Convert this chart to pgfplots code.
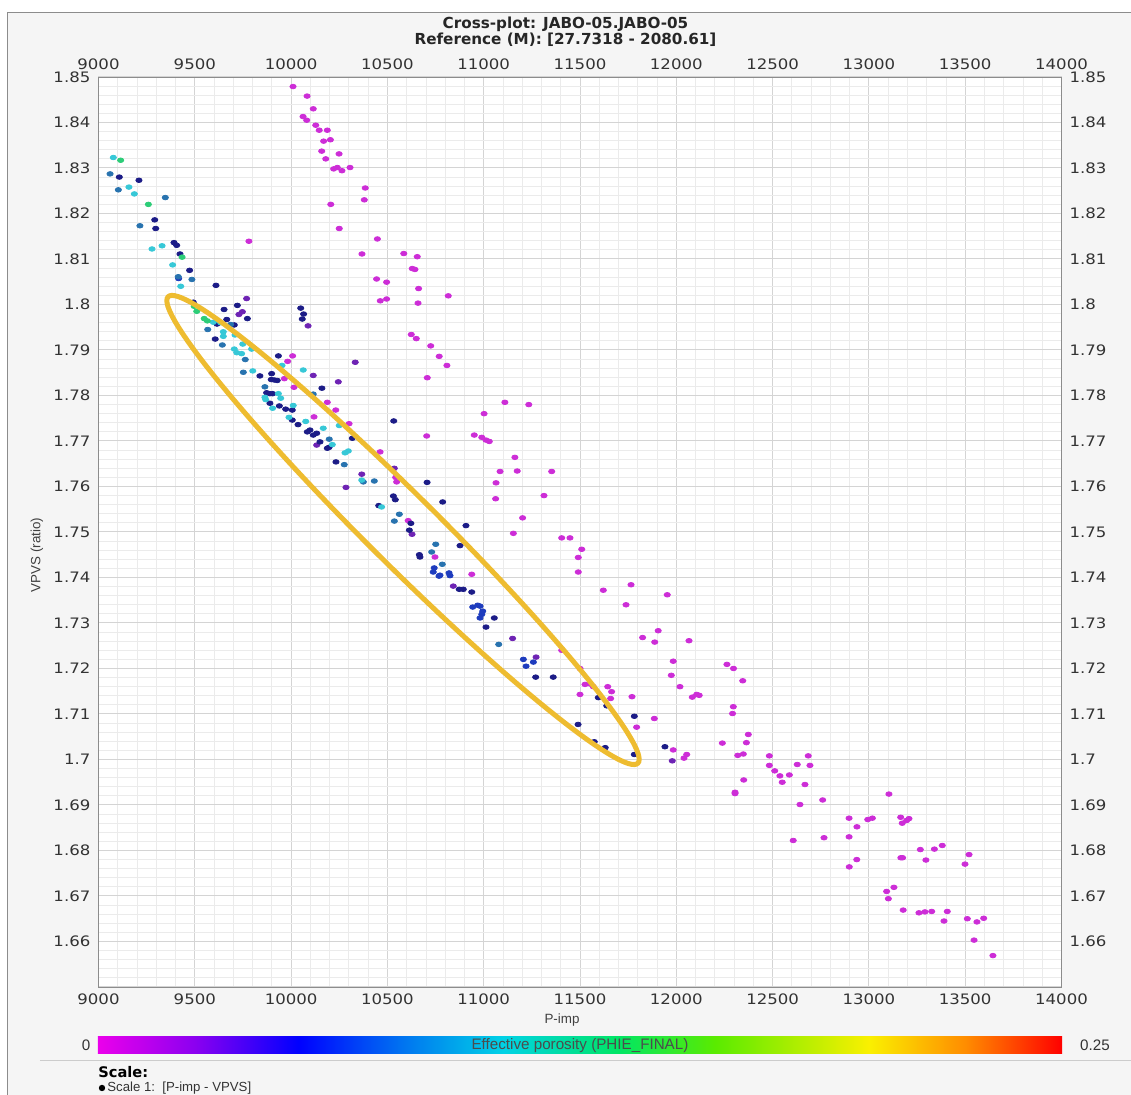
\documentclass[border=0pt]{standalone}
\usepackage{pgfplots}
\pgfplotsset{compat=1.18}
\usepackage{fontspec}
\setmainfont{DejaVu Sans}
\newfontfamily\lib{Liberation Sans}
\definecolor{mag}{RGB}{205,45,215}
\definecolor{pur}{RGB}{110,35,180}
\definecolor{nav}{RGB}{28,28,135}
\definecolor{blu}{RGB}{30,60,190}
\definecolor{stl}{RGB}{40,115,175}
\definecolor{cyn}{RGB}{55,200,215}
\definecolor{grn}{RGB}{45,205,120}
\definecolor{ell}{RGB}{238,188,48}
\definecolor{c0}{RGB}{235,0,235}
\definecolor{c1}{RGB}{140,0,240}
\definecolor{c2}{RGB}{0,0,255}
\definecolor{c3}{RGB}{0,120,240}
\definecolor{c4}{RGB}{0,210,230}
\definecolor{c5}{RGB}{0,230,100}
\definecolor{c6}{RGB}{90,235,0}
\definecolor{c7}{RGB}{250,240,0}
\definecolor{c8}{RGB}{255,140,0}
\definecolor{c9}{RGB}{255,0,0}
\pgfdeclarehorizontalshading{phie}{100bp}{color(0bp)=(c0); color(25bp)=(c0); color(30bp)=(c1); color(35.4bp)=(c2); color(41bp)=(c3); color(46bp)=(c4); color(52bp)=(c5); color(57bp)=(c6); color(65bp)=(c7); color(70bp)=(c8); color(75bp)=(c9); color(100bp)=(c9)}
\newcommand\pxy[2]{({(#1-98.5)*0.5pt},{(987-#2)*0.5pt})}
\pgfplotsset{
  common/.style={
    at={(0,0)}, anchor=south west, scale only axis,
    width=481.5pt, height=455pt,
    xmin=9000, xmax=14000, ymin=1.65, ymax=1.85,
    scaled ticks=false,
    xtick={9000,9500,10000,10500,11000,11500,12000,12500,13000,13500,14000},
    xticklabels={9000,9500,10000,10500,11000,11500,12000,12500,13000,13500,14000},
    ytick={1.65,1.66,1.67,1.68,1.69,1.7,1.71,1.72,1.73,1.74,1.75,1.76,1.77,1.78,1.79,1.8,1.81,1.82,1.83,1.84,1.85},
    yticklabels={,1.66,1.67,1.68,1.69,1.7,1.71,1.72,1.73,1.74,1.75,1.76,1.77,1.78,1.79,1.8,1.81,1.82,1.83,1.84,1.85},
    tick style={draw=none},
    tick label style={font=\fontsize{7.2}{8}\selectfont, text=black!80, xscale=1.15},
  },
  dots/.style={only marks, mark=*, mark size=1.15pt, mark options={xscale=1.35, draw=none, fill=#1}, color=#1},
}
\begin{document}
\begin{tikzpicture}
\useasboundingbox \pxy{0}{1095} rectangle \pxy{1131}{0};
\fill[white] \pxy{0}{1095} rectangle \pxy{1131}{0};
\fill[black!4] \pxy{8}{1095} rectangle \pxy{1131}{13};
\draw[black!45, line width=0.5pt] \pxy{8}{1095} -- \pxy{8}{13} -- \pxy{1131}{13};
\fill[white] \pxy{98.5}{987} rectangle \pxy{1061.5}{77};
\begin{axis}[common,
  minor x tick num=4, minor y tick num=4,
  grid=both,
  major grid style={black!17, line width=0.5pt},
  minor grid style={black!8, line width=0.4pt},
  axis line style={black!45},
  clip=true,
]
\addplot[dots=mag] coordinates {
(10010,1.8479) (10083,1.8458) (10115,1.8430) (10062,1.8413) (10081,1.8405) (10128,1.8394)
(10146,1.8383) (10188,1.8383) (10169,1.8359) (10204,1.8362) (10159,1.8337) (10249,1.8331)
(10180,1.8320) (10221,1.8298) (10240,1.8301) (10264,1.8294) (10306,1.8301) (10385,1.8256)
(10380,1.8230) (10206,1.8220) (10250,1.8167) (9781,1.8139) (10448,1.8144) (10368,1.8111)
(10444,1.8056) (10496,1.8049) (10463,1.8008) (10496,1.8012) (10585,1.8112) (10655,1.8105)
(10629,1.8079) (10643,1.8077) (10662,1.8035) (10659,1.8003) (10816,1.8019) (10624,1.7934)
(10650,1.7925) (10725,1.7909) (10769,1.7886) (10809,1.7866) (10707,1.7839) (10008,1.7887)
(9982,1.7875) (11110,1.7785) (11234,1.7780) (11002,1.7760) (10704,1.7711) (10951,1.7713)
(10990,1.7708) (11012,1.7702) (11029,1.7699) (10462,1.7676) (11162,1.7664) (11085,1.7633)
(11174,1.7634) (11353,1.7633) (11064,1.7608) (10543,1.7620) (10548,1.7610) (11062,1.7573)
(11313,1.7580) (11202,1.7531) (10608,1.7525) (11154,1.7497) (9965,1.7837) (10015,1.7818)
(10119,1.7753) (10188,1.7785) (10232,1.7768) (10301,1.7738) (10747,1.7445) (10938,1.7407)
(11405,1.7487) (11448,1.7487) (11509,1.7462) (11491,1.7444) (11491,1.7412) (11621,1.7372)
(11765,1.7384) (11739,1.7340) (11953,1.7362) (11825,1.7268) (11906,1.7283) (11888,1.7258)
(12066,1.7261) (11984,1.7216) (12263,1.7209) (12297,1.7200) (11974,1.7185) (12019,1.7160)
(12083,1.7137) (12106,1.7143) (12119,1.7141) (12296,1.7116) (12292,1.7101) (11405,1.7240)
(11500,1.7200) (11526,1.7165) (11552,1.7166) (11569,1.7160) (11500,1.7143) (11644,1.7160)
(11664,1.7149) (11659,1.7134) (11770,1.7138) (11794,1.7071) (11886,1.7090) (11984,1.7021)
(12054,1.7011) (12040,1.7003) (12345,1.7173) (12374,1.7055) (12239,1.7036) (12364,1.7037)
(12319,1.7009) (12348,1.7012) (12350,1.6955) (12305,1.6928) (12305,1.6925) (12483,1.7008)
(12483,1.6987) (12511,1.6975) (12538,1.6964) (12550,1.6950) (12587,1.6966) (12685,1.7008)
(12628,1.6989) (12694,1.6987) (12668,1.6945) (12642,1.6901) (12760,1.6911) (13104,1.6924)
(12897,1.6871) (12938,1.6852) (12994,1.6868) (13018,1.6871) (13165,1.6873) (13173,1.6860)
(13196,1.6866) (13208,1.6870) (12607,1.6822) (12767,1.6828) (12897,1.6830) (12937,1.6780)
(12898,1.6764) (13166,1.6784) (13175,1.6784) (13267,1.6802) (13296,1.6779) (13340,1.6803)
(13381,1.6811) (13499,1.6770) (13520,1.6791) (13092,1.6710) (13130,1.6719) (13101,1.6694)
(13178,1.6669) (13260,1.6663) (13291,1.6665) (13326,1.6666) (13407,1.6666) (13390,1.6645)
(13511,1.6650) (13561,1.6643) (13596,1.6651) (13546,1.6603) (13644,1.6569)
};
\addplot[dots=pur] coordinates {
(9769,1.8013) (9747,1.7984) (9729,1.7978) (10088,1.7953) (10333,1.7873) (10115,1.7844)
(10245,1.7830) (10367,1.7627) (10536,1.7640) (10285,1.7598) (10133,1.7691) (10842,1.7381)
(11150,1.7266) (11272,1.7225) (11979,1.6997) (10628,1.7495)
};
\addplot[dots=nav] coordinates {
(9108,1.8280) (9210,1.8273) (9297,1.8167) (9292,1.8186) (9392,1.8136) (9406,1.8130)
(9423,1.8111) (9473,1.8075) (9610,1.8042) (9492,1.8005) (9721,1.7998) (9773,1.7969)
(9652,1.7989) (9666,1.7967) (9615,1.7957) (9705,1.7955) (9606,1.7924) (10050,1.7992)
(10065,1.7979) (10058,1.7968) (9838,1.7843) (9899,1.7848) (9897,1.7835) (9913,1.7834)
(9928,1.7833) (9873,1.7806) (9890,1.7804) (9904,1.7804) (9890,1.7783) (9939,1.7777)
(9972,1.7770) (10006,1.7768) (10006,1.7746) (10036,1.7736) (10084,1.7720) (10098,1.7724)
(10133,1.7717) (10115,1.7713) (10150,1.7698) (10188,1.7684) (10197,1.7686) (10318,1.7706)
(10160,1.7816) (10233,1.7654) (10455,1.7558) (10533,1.7744) (10706,1.7609) (10531,1.7579)
(10541,1.7571) (10787,1.7566) (10622,1.7519) (10614,1.7504) (10908,1.7514) (10877,1.7470)
(10666,1.7450) (10669,1.7445) (10873,1.7374) (10894,1.7374) (10938,1.7368) (11055,1.7311)
(11012,1.7291) (11270,1.7181) (11361,1.7181) (11595,1.7136) (11639,1.7118) (11782,1.7095)
(11490,1.7077) (11574,1.7039) (11631,1.7026) (11782,1.7011) (11941,1.7028) (9934,1.7887)
};
\addplot[dots=blu] coordinates {
(10743,1.7421) (10738,1.7412) (10773,1.7405) (10768,1.7403) (10820,1.7410) (10825,1.7404)
(10943,1.7335) (10969,1.7339) (10981,1.7337) (10995,1.7326) (10990,1.7319) (10981,1.7311)
(11206,1.7220) (11258,1.7214) (11220,1.7205) (9416,1.8057)
};
\addplot[dots=stl] coordinates {
(9060,1.8287) (9103,1.8252) (9347,1.8235) (9215,1.8173) (9414,1.8061) (9485,1.8055)
(9686,1.7956) (9567,1.7945) (9643,1.7911) (9762,1.7879) (9752,1.7851) (9864,1.7819)
(10115,1.7803) (10198,1.7704) (10276,1.7648) (10375,1.7610) (10432,1.7612) (10562,1.7539)
(10536,1.7524) (10751,1.7473) (10730,1.7456) (10785,1.7429) (11078,1.7253)
};
\addplot[dots=cyn] coordinates {
(9077,1.8323) (9158,1.8258) (9186,1.8243) (9330,1.8129) (9278,1.8122) (9385,1.8087)
(9427,1.8040) (9596,1.7961) (9634,1.7960) (9648,1.7940) (9709,1.7933) (9648,1.7930)
(9749,1.7913) (9705,1.7902) (9795,1.7902) (9718,1.7894) (9743,1.7892) (9801,1.7854)
(9953,1.7866) (10063,1.7856) (9864,1.7796) (9868,1.7791) (9934,1.7804) (9946,1.7794)
(9904,1.7772) (10011,1.7778) (9989,1.7752) (10167,1.7728) (10214,1.7692) (10250,1.7734)
(10280,1.7674) (10297,1.7678) (10367,1.7614) (10470,1.7555) (10076,1.7743)
};
\addplot[dots=grn] coordinates {
(9115,1.8317) (9259,1.8220) (9434,1.8104) (9497,1.7996) (9510,1.7985) (9549,1.7969) (9565,1.7964)
};
\end{axis}
\begin{axis}[common,
  xticklabel pos=upper, yticklabel pos=right,
  axis line style={draw=none},
]
\end{axis}
\draw[ell, line width=2.5pt, rotate around={-44.8:\pxy{403}{530}}] \pxy{403}{530} ellipse [x radius=165.5pt, y radius=17.5pt];
% titles
\node[font=\bfseries\fontsize{7.6}{9}\selectfont, text=black!85] at \pxy{565.5}{24} {Cross-plot: JABO-05.JABO-05};
\node[font=\bfseries\fontsize{7.6}{9}\selectfont, text=black!85] at \pxy{565.5}{40} {Reference (M): [27.7318 - 2080.61]};
% axis labels
\node[font=\lib\fontsize{6.7}{8}\selectfont, text=black!75] at \pxy{562}{1020} {P-imp};
\node[font=\lib\fontsize{6.7}{8}\selectfont, text=black!75, rotate=90] at \pxy{37}{555} {VPVS (ratio)};
% colorbar
\shade[shading=phie] \pxy{98}{1054} rectangle \pxy{1062}{1037};
\node[font=\lib\fontsize{7.6}{9}\selectfont, text=black!70] at \pxy{580}{1045.5} {Effective porosity (PHIE\_FINAL)};
\node[font=\lib\fontsize{7.6}{9}\selectfont, text=black!80] at \pxy{86}{1045.5} {0};
\node[font=\lib\fontsize{7.6}{9}\selectfont, text=black!80] at \pxy{1095}{1045.5} {0.25};
\draw[black!20, line width=0.5pt] \pxy{40}{1061} -- \pxy{1131}{1061};
\node[anchor=west, inner sep=0pt, font=\bfseries\fontsize{7.3}{8}\selectfont] at \pxy{98}{1072} {Scale:};
\fill[black] \pxy{102}{1088} circle[radius=1.6pt];
\node[anchor=west, inner sep=0pt, font=\lib\fontsize{6.6}{7}\selectfont, text=black!80] at \pxy{107}{1088.5} {Scale 1:\ \ [P-imp - VPVS]};
\end{tikzpicture}
\end{document}
